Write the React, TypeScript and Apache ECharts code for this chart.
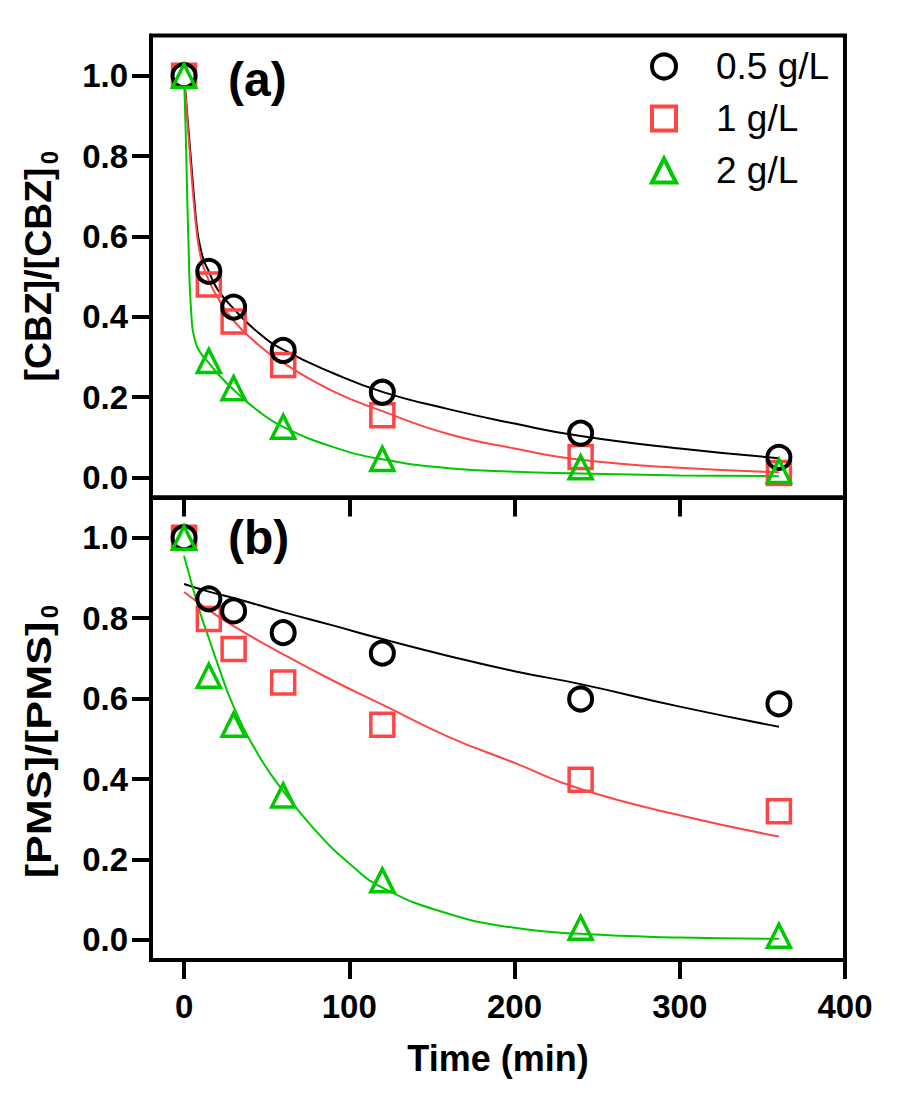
import React, { useEffect, useRef } from "react";
import * as echarts from "echarts";

// ---- data ----
const times = [0, 15, 30, 60, 120, 240, 360];

// (a) [CBZ]/[CBZ]0 measured points
const cbz05 = [1.0, 0.513, 0.424, 0.316, 0.212, 0.11, 0.05];
const cbz1 = [1.0, 0.48, 0.388, 0.28, 0.155, 0.051, 0.011];
const cbz2 = [1.0, 0.29, 0.222, 0.126, 0.046, 0.025, 0.016];

// (b) [PMS]/[PMS]0 measured points
const pms05 = [1.0, 0.848, 0.818, 0.764, 0.713, 0.599, 0.587];
const pms1 = [1.0, 0.798, 0.723, 0.64, 0.535, 0.398, 0.32];
const pms2 = [1.0, 0.657, 0.535, 0.359, 0.148, 0.03, 0.01];

// fitted curves
const fitTimeA = [0, 2, 4, 6, 8, 10, 12, 15, 20, 30, 45, 60, 90, 120, 160, 200, 240, 300, 360];
const fitCbz05 = [1.0, 0.9, 0.8, 0.7, 0.615, 0.57, 0.54, 0.513, 0.47, 0.42, 0.36, 0.318, 0.26, 0.213, 0.17, 0.134, 0.103, 0.072, 0.048];
const fitCbz1 = [1.0, 0.89, 0.78, 0.68, 0.6, 0.55, 0.52, 0.49, 0.45, 0.39, 0.33, 0.285, 0.215, 0.165, 0.108, 0.072, 0.044, 0.024, 0.013];
const fitTimeA2 = [0, 1, 2.5, 4.5, 7, 10, 15, 20, 30, 45, 60, 90, 120, 160, 200, 240, 300, 360];
const fitCbz2 = [1.0, 0.86, 0.61, 0.4, 0.335, 0.31, 0.285, 0.26, 0.218, 0.165, 0.126, 0.076, 0.045, 0.023, 0.014, 0.01, 0.005, 0.003];

const fitTimeB = [0, 15, 30, 60, 90, 120, 160, 200, 240, 300, 360];
const fitPms05 = [0.885, 0.866, 0.85, 0.815, 0.782, 0.748, 0.706, 0.668, 0.636, 0.58, 0.53];
const fitPms1 = [0.865, 0.82, 0.78, 0.71, 0.645, 0.585, 0.505, 0.44, 0.375, 0.31, 0.257];
const fitTimeB2 = [0, 5, 10, 15, 20, 30, 45, 60, 80, 100, 120, 160, 200, 240, 300, 360];
const fitPms2 = [0.955, 0.88, 0.81, 0.75, 0.69, 0.58, 0.46, 0.37, 0.27, 0.19, 0.13, 0.065, 0.03, 0.015, 0.006, 0.003];

const seriesNames = ["0.5 g/L", "1 g/L", "2 g/L"];
const xTicks = [0, 100, 200, 300, 400];
const yTicks = [0, 0.2, 0.4, 0.6, 0.8, 1.0];

const FONT = "'Liberation Sans', Arial, Helvetica, sans-serif";
const BLACK = "#000000";
const RED = "#ff4646";
const GREEN = "#00c800";

function pairs(xs: number[], ys: number[]) {
  return xs.map((x, i) => [x, ys[i]]);
}

// firstFill: fill colour used for the overlapping marker at t = 0
function scatter(name: string, idx: number, ys: number[], symbol: string, color: string, bw: number, z: number, firstFill: string) {
  return {
    type: "scatter",
    name,
    xAxisIndex: idx,
    yAxisIndex: idx,
    data: pairs(times, ys).map((p, i) =>
      i === 0 ? { value: p, itemStyle: { color: firstFill } } : { value: p }
    ),
    symbol,
    symbolSize: 23,
    itemStyle: { color: "rgba(0,0,0,0)", borderColor: color, borderWidth: bw, opacity: 1 },
    emphasis: { disabled: true },
    silent: true,
    z,
  };
}

function fit(name: string, idx: number, xs: number[], ys: number[], color: string) {
  return {
    type: "line",
    name,
    xAxisIndex: idx,
    yAxisIndex: idx,
    data: pairs(xs, ys),
    showSymbol: false,
    symbol: "none",
    smooth: 0.5,
    lineStyle: { color, width: 2 },
    emphasis: { disabled: true },
    silent: true,
    z: 2,
  };
}

const tickLabelStyle = {
  fontFamily: FONT,
  fontWeight: "bold" as const,
  fontSize: 33,
  color: BLACK,
};

function xAxis(idx: number, showLabels: boolean) {
  return {
    type: "value",
    gridIndex: idx,
    min: -20,
    max: 400,
    position: "bottom",
    splitLine: { show: false },
    axisLine: { show: true, onZero: false, lineStyle: { color: BLACK, width: 4 } },
    axisTick: { show: true, inside: false, length: 19, customValues: xTicks, lineStyle: { color: BLACK, width: 4 } },
    axisLabel: { show: showLabels, customValues: xTicks, margin: 30, ...tickLabelStyle },
    ...(showLabels
      ? {
          name: "Time (min)",
          nameLocation: "middle",
          nameGap: 80,
          nameTextStyle: { fontFamily: FONT, fontWeight: "bold", fontSize: 36, color: BLACK },
        }
      : {}),
  };
}

function yAxis(idx: number) {
  return {
    type: "value",
    gridIndex: idx,
    min: -0.05,
    max: 1.1,
    splitLine: { show: false },
    axisLine: { show: true, onZero: false, lineStyle: { color: BLACK, width: 4 } },
    axisTick: { show: true, inside: false, length: 19, customValues: yTicks, lineStyle: { color: BLACK, width: 4 } },
    axisLabel: {
      show: true,
      customValues: yTicks,
      margin: 23,
      formatter: (v: number) => v.toFixed(1),
      ...tickLabelStyle,
    },
  };
}

function buildOption() {
  return {
    animation: false,
    backgroundColor: "#ffffff",
    grid: [
      { left: 151, top: 35.5, width: 694, height: 462, show: true, borderColor: BLACK, borderWidth: 4, backgroundColor: "transparent" },
      { left: 151, top: 497.5, width: 694, height: 462.5, show: true, borderColor: BLACK, borderWidth: 4, backgroundColor: "transparent" },
    ],
    xAxis: [xAxis(0, false), xAxis(1, true)],
    yAxis: [yAxis(0), yAxis(1)],
    legend: {
      orient: "vertical",
      left: 650,
      top: 48,
      padding: 0,
      itemWidth: 24,
      itemHeight: 24,
      itemGap: 15,
      selectedMode: false,
      data: [
        { name: seriesNames[0], icon: "circle" },
        { name: seriesNames[1], icon: "rect" },
        { name: seriesNames[2], icon: "triangle" },
      ],
      itemStyle: { borderWidth: 4 },
      textStyle: { fontFamily: FONT, fontSize: 37, color: BLACK, padding: [0, 0, 0, 35] },
    },
    graphic: [
      {
        type: "text",
        x: 228,
        y: 79,
        style: { text: "(a)", fontFamily: FONT, fontWeight: "bold", fontSize: 48, fill: BLACK, align: "left", verticalAlign: "middle" },
      },
      {
        type: "text",
        x: 228,
        y: 537,
        style: { text: "(b)", fontFamily: FONT, fontWeight: "bold", fontSize: 48, fill: BLACK, align: "left", verticalAlign: "middle" },
      },
      {
        type: "text",
        x: 38.5,
        y: 274.5,
        rotation: Math.PI / 2,
        scaleX: 1.04,
        style: { text: "[CBZ]/[CBZ]", fontFamily: FONT, fontWeight: "bold", fontSize: 36, fill: BLACK, align: "center", verticalAlign: "middle" },
      },
      {
        type: "text",
        x: 49,
        y: 157.5,
        rotation: Math.PI / 2,
        style: { text: "0", fontFamily: FONT, fontWeight: "bold", fontSize: 24, fill: BLACK, align: "center", verticalAlign: "middle" },
      },
      {
        type: "text",
        x: 38.5,
        y: 750,
        rotation: Math.PI / 2,
        scaleX: 1.2,
        style: { text: "[PMS]/[PMS]", fontFamily: FONT, fontWeight: "bold", fontSize: 36, fill: BLACK, align: "center", verticalAlign: "middle" },
      },
      {
        type: "text",
        x: 49,
        y: 611.5,
        rotation: Math.PI / 2,
        style: { text: "0", fontFamily: FONT, fontWeight: "bold", fontSize: 24, fill: BLACK, align: "center", verticalAlign: "middle" },
      },
    ],
    series: [
      fit("fit a 0.5", 0, fitTimeA, fitCbz05, BLACK),
      fit("fit a 1", 0, fitTimeA, fitCbz1, RED),
      fit("fit a 2", 0, fitTimeA2, fitCbz2, GREEN),
      fit("fit b 0.5", 1, fitTimeB, fitPms05, BLACK),
      fit("fit b 1", 1, fitTimeB, fitPms1, RED),
      fit("fit b 2", 1, fitTimeB2, fitPms2, GREEN),
      scatter(seriesNames[1], 0, cbz1, "rect", RED, 3.5, 3, RED),
      scatter(seriesNames[0], 0, cbz05, "circle", BLACK, 4, 4, "#ffffff"),
      scatter(seriesNames[2], 0, cbz2, "triangle", GREEN, 3.5, 5, "rgba(0,0,0,0)"),
      scatter(seriesNames[1], 1, pms1, "rect", RED, 3.5, 3, RED),
      scatter(seriesNames[0], 1, pms05, "circle", BLACK, 4, 4, "#ffffff"),
      scatter(seriesNames[2], 1, pms2, "triangle", GREEN, 3.5, 5, "rgba(0,0,0,0)"),
    ],
  };
}

export default function App() {
  const ref = useRef<HTMLDivElement>(null);
  useEffect(() => {
    if (!ref.current) return;
    const chart = echarts.init(ref.current, null, { renderer: "svg" });
    chart.setOption(buildOption() as any);
    return () => {
      chart.dispose();
    };
  }, []);
  return (
    <div
      ref={ref}
      style={{ position: "absolute", left: 0, top: 0, width: 911, height: 1095, background: "#fff" }}
    />
  );
}
